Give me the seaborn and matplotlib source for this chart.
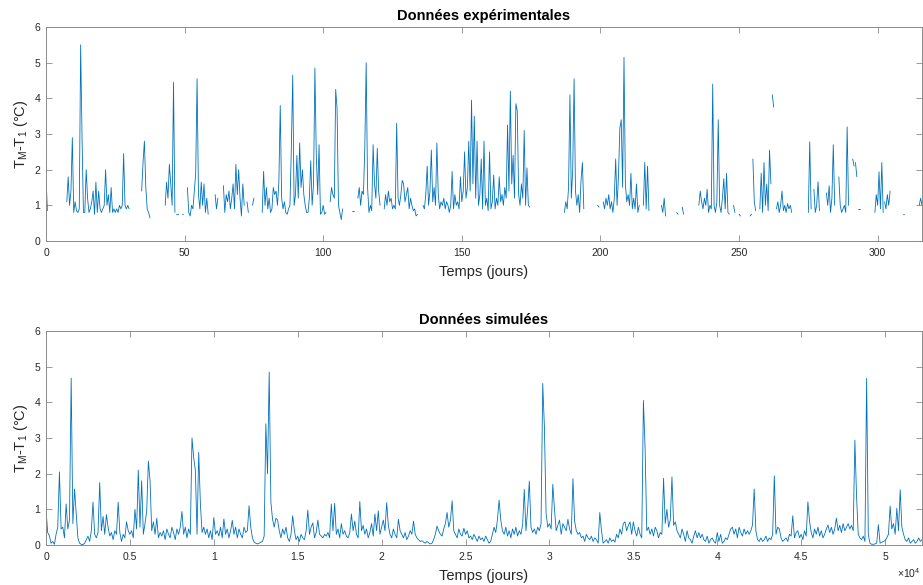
import numpy as np
import pandas as pd
import matplotlib
matplotlib.use("Agg")
import matplotlib.pyplot as plt
import seaborn as sns

# ---- Experimental data: continuous recording pieces (start day, values every 0.5 day)
exp_pas = 0.5
exp_debut = [0.0, 7.5, 34.5, 43.0, 47.0, 49.0, 51.0, 61.0, 64.0, 72.5, 74.5, 78.0,
             102.5, 110.5, 112.5, 122.0, 136.0, 187.0, 199.0, 201.0, 215.5, 222.0,
             227.5, 229.5, 235.5, 248.0, 250.0, 254.0, 255.0, 257.5, 262.0, 263.5,
             275.0, 277.0, 281.5, 286.0, 291.0, 292.0, 293.0, 299.0, 302.5, 309.0, 315.0]
exp_segments = [
    [1.8, 0.85],
    [1.1, 1.8, 1.0, 1.4, 2.9, 0.8, 1.1, 0.85, 0.8, 0.9, 5.5, 2.9, 0.8, 0.8, 2.0, 1.2,
     0.8, 0.9, 1.1, 1.4, 0.75, 1.65, 0.8, 1.4, 0.9, 0.8, 0.9, 1.0, 2.0, 1.0, 1.3, 0.8,
     1.5, 0.8, 0.9, 0.8, 0.9, 0.8, 1.0, 0.9, 1.0, 2.45, 1.0, 0.9, 1.0, 0.9],
    [1.4, 2.2, 2.8, 1.5, 0.9, 0.8, 0.65],
    [1.0, 1.65, 1.2, 2.15, 1.6, 1.0, 4.45, 0.8],
    [0.75, 0.75],
    [0.75, 0.75],
    [1.5, 0.8, 0.7, 1.0, 0.9, 1.4, 1.9, 4.55, 1.3, 0.9, 1.65, 1.0, 1.6, 0.8, 1.2, 0.75],
    [1.3, 0.9, 1.2],
    [1.55, 0.8, 1.3, 1.1, 1.4, 0.9, 1.2, 1.6, 0.9, 2.15, 1.3, 2.0, 1.2, 0.7, 1.6, 1.0],
    [1.1, 0.8],
    [1.0, 1.2],
    [0.8, 1.95, 1.0, 1.5, 0.9, 1.2, 0.8, 0.9, 1.5, 1.3, 1.4, 1.0, 1.65, 3.8, 1.2, 0.9,
     1.1, 0.8, 0.75, 0.9, 1.0, 2.6, 4.65, 1.0, 1.3, 2.4, 1.2, 2.75, 1.5, 2.0, 1.3, 1.0,
     0.8, 0.8, 1.2, 2.25, 1.0, 1.6, 4.85, 2.4, 1.3, 2.7, 0.75, 0.8, 1.0, 0.75, 0.8],
    [1.1, 1.5, 1.3, 1.2, 4.25, 3.7, 1.0, 0.8, 0.6, 0.9],
    [0.85, 0.85],
    [1.2, 1.5, 1.0, 1.4, 1.3, 2.6, 5.0, 1.5, 0.8, 1.0, 0.85, 2.7, 1.6, 1.2, 2.6, 1.4, 1.0],
    [0.9, 1.3, 1.0, 1.4, 1.1, 1.2, 0.9, 1.0, 0.9, 3.3, 1.2, 1.0, 1.3, 1.7, 1.6, 1.1,
     1.3, 1.5, 0.9, 1.2, 1.0, 0.85, 0.9, 0.7, 0.75],
    [1.0, 0.9, 1.3, 2.1, 1.0, 1.4, 2.55, 1.1, 1.5, 1.0, 2.75, 1.3, 0.9, 1.1, 1.0, 1.2,
     0.9, 1.1, 1.0, 0.8, 1.0, 1.95, 0.9, 1.3, 1.0, 1.1, 0.9, 1.8, 1.1, 1.4, 2.5, 1.2,
     1.5, 2.8, 1.4, 3.95, 1.6, 3.5, 1.2, 2.8, 1.0, 1.3, 2.3, 0.9, 2.8, 1.0, 1.2, 0.85,
     2.5, 0.9, 1.1, 1.85, 0.9, 1.2, 1.0, 1.8, 1.1, 1.3, 1.0, 1.5, 1.2, 3.25, 1.4, 4.2,
     1.6, 2.4, 1.2, 3.85, 3.65, 1.3, 1.0, 1.6, 1.2, 3.1, 1.0, 2.05, 1.0, 0.95],
    [0.8, 1.1, 0.9, 1.5, 4.1, 1.2, 2.0, 4.55, 1.4, 1.0, 1.3, 0.8, 1.7, 2.2, 0.9],
    [1.0, 0.95],
    [1.1, 0.9, 1.2, 1.0, 1.3, 0.9, 1.1, 0.8, 1.2, 2.3, 1.0, 1.8, 3.15, 3.4, 1.5, 5.15,
     1.6, 1.1, 1.3, 1.0, 1.9, 0.9, 1.2, 0.9, 1.6, 0.8, 1.0],
    [1.0, 2.2, 0.9, 2.1, 0.85],
    [1.0, 0.8, 1.2, 0.7],
    [0.8, 0.75],
    [0.95, 0.75],
    [1.0, 1.4, 1.1, 0.9, 1.2, 1.0, 1.45, 0.8, 1.0, 0.9, 4.4, 1.0, 0.8, 1.1, 3.4, 1.0,
     0.8, 1.2, 1.75, 0.9, 1.9, 0.8, 0.75],
    [1.0, 0.8],
    [0.75, 0.7],
    [0.7, 0.75],
    [2.3, 1.1, 0.85],
    [0.9, 1.9, 0.8, 2.2, 1.0, 1.6, 0.85, 2.55, 1.6],
    [4.1, 3.75],
    [0.9, 1.1, 0.8, 1.0, 1.4, 0.85, 1.0, 0.8, 1.05, 0.9, 1.0, 0.8],
    [0.8, 2.78, 0.9],
    [1.45, 0.8, 1.0, 1.66, 0.85],
    [1.35, 1.0, 1.55, 0.8, 1.2, 2.7, 1.0],
    [1.8, 1.0, 0.8, 0.9, 1.0, 0.8, 3.2, 1.0],
    [2.3, 2.1],
    [2.2, 1.8],
    [0.9, 0.9],
    [0.8, 1.3, 1.0, 1.94, 0.9, 2.2, 0.8],
    [1.1, 0.9, 1.3, 1.0, 1.4],
    [0.75, 0.75],
    [1.0, 1.2, 1.0],
]

# ---- Simulated data: one value every 100 time units
sim_pas = 100
sim_dT = [
    1.00, 0.35, 0.26, 0.05, 0.10, 0.02, 0.30, 0.50, 2.05, 0.45,
    0.50, 0.20, 1.15, 0.45, 0.70, 4.68, 0.60, 1.57, 0.87, 0.20,
    0.05, 0.02, 0.01, 0.05, 0.15, 0.25, 0.10, 0.40, 1.20, 0.30,
    0.20, 0.35, 1.75, 0.40, 0.80, 0.30, 0.85, 0.50, 0.25, 0.35,
    0.15, 0.40, 0.30, 1.20, 0.35, 0.10, 0.30, 0.20, 0.65, 0.40,
    0.30, 0.40, 0.20, 1.00, 0.45, 2.10, 0.50, 1.80, 0.30, 0.60,
    0.95, 2.35, 1.80, 0.40, 0.65, 0.30, 0.75, 0.20, 0.35, 0.25,
    0.40, 0.15, 0.45, 0.30, 0.20, 0.50, 0.35, 0.15, 0.45, 0.30,
    0.50, 0.94, 0.30, 0.50, 0.20, 0.45, 0.30, 3.00, 2.45, 2.10,
    0.30, 2.60, 1.15, 0.35, 0.50, 0.30, 0.45, 0.20, 0.40, 0.15,
    0.77, 0.30, 0.40, 0.25, 0.50, 0.20, 0.73, 0.30, 0.45, 0.20,
    0.40, 0.69, 0.30, 0.50, 0.20, 0.45, 0.30, 0.20, 0.50, 0.35,
    0.40, 1.10, 0.50, 0.20, 0.08, 0.05, 0.03, 0.05, 0.08, 0.10,
    0.25, 3.40, 2.00, 4.85, 1.20, 0.72, 0.50, 0.75, 0.70, 0.40,
    0.20, 0.45, 0.30, 0.50, 0.20, 0.10, 0.30, 0.82, 0.40, 0.15,
    0.25, 0.10, 0.30, 0.20, 0.15, 0.40, 0.98, 0.30, 0.50, 0.62,
    0.20, 0.35, 0.70, 0.30, 0.25, 0.20, 0.30, 0.25, 0.35, 0.20,
    1.15, 0.40, 1.17, 0.30, 0.45, 0.20, 0.60, 0.30, 0.40, 0.25,
    0.20, 0.35, 0.87, 0.40, 0.67, 0.30, 0.20, 1.22, 0.40, 0.55,
    0.30, 0.45, 0.20, 0.35, 0.60, 0.25, 0.87, 0.40, 0.96, 0.30,
    0.50, 0.70, 0.40, 1.19, 0.55, 0.30, 0.20, 0.45, 0.30, 0.20,
    0.72, 0.40, 0.30, 0.20, 0.35, 0.15, 0.25, 0.40, 0.30, 0.67,
    0.30, 0.20, 0.15, 0.10, 0.12, 0.08, 0.05, 0.10, 0.06, 0.03,
    0.05, 0.15, 0.30, 0.53, 0.40, 0.30, 0.25, 0.45, 0.60, 0.91,
    0.50, 0.70, 1.24, 0.40, 0.30, 0.20, 0.45, 0.30, 0.25, 0.47,
    0.30, 0.40, 0.20, 0.25, 0.15, 0.30, 0.20, 0.10, 0.25, 0.15,
    0.20, 0.10, 0.25, 0.15, 0.05, 0.10, 0.30, 0.50, 0.35, 0.70,
    1.26, 0.70, 0.40, 0.30, 0.50, 0.25, 0.40, 0.20, 0.45, 0.30,
    0.50, 0.25, 0.40, 0.30, 0.55, 1.56, 0.40, 1.00, 1.79, 0.50,
    0.35, 0.45, 0.30, 0.50, 0.40, 0.60, 4.53, 3.30, 0.88, 0.50,
    0.60, 0.45, 1.70, 1.00, 0.40, 0.55, 0.70, 0.30, 0.60, 0.50,
    0.40, 0.72, 0.45, 0.30, 1.86, 0.67, 0.40, 0.30, 0.35, 0.20,
    0.25, 0.10, 0.30, 0.20, 0.15, 0.25, 0.10, 0.20, 0.15, 0.05,
    0.91, 0.40, 0.05, 0.10, 0.15, 0.05, 0.20, 0.10, 0.15, 0.08,
    0.30, 0.20, 0.45, 0.30, 0.60, 0.65, 0.40, 0.55, 0.65, 0.30,
    0.65, 0.40, 0.25, 0.50, 0.30, 0.20, 4.05, 2.70, 0.40, 0.50,
    0.30, 0.45, 0.25, 0.50, 0.40, 0.20, 0.35, 0.30, 1.87, 0.60,
    1.00, 0.50, 0.70, 1.91, 0.55, 0.65, 0.40, 0.30, 0.20, 0.45,
    0.30, 0.10, 0.40, 0.20, 0.15, 0.05, 0.25, 0.40, 0.20, 0.35,
    0.20, 0.30, 0.15, 0.10, 0.25, 0.05, 0.15, 0.20, 0.10, 0.05,
    0.35, 0.10, 0.30, 0.05, 0.10, 0.20, 0.15, 0.30, 0.45, 0.50,
    0.30, 0.45, 0.20, 0.50, 0.35, 0.25, 0.45, 0.30, 0.40, 0.30,
    0.40, 0.56, 1.57, 0.40, 0.15, 0.10, 0.20, 0.10, 0.15, 0.25,
    0.10, 0.20, 0.15, 0.30, 1.94, 0.30, 0.50, 0.45, 0.20, 0.10,
    0.15, 0.20, 0.10, 0.30, 0.25, 0.82, 0.20, 0.35, 0.40, 0.20,
    0.30, 0.15, 0.40, 0.25, 1.21, 0.66, 0.35, 0.20, 0.45, 0.30,
    0.50, 0.25, 0.40, 0.20, 0.30, 0.45, 0.56, 0.35, 0.50, 0.30,
    0.45, 0.75, 0.40, 0.55, 0.35, 0.60, 0.40, 0.50, 0.60, 0.45,
    0.55, 0.40, 2.94, 1.37, 0.30, 0.20, 0.15, 0.25, 0.10, 4.67,
    0.30, 0.05, 0.02, 0.02, 0.03, 0.05, 0.57, 0.05, 0.08, 0.10,
    0.12, 0.20, 0.30, 1.09, 0.45, 0.60, 0.30, 1.03, 0.40, 1.55,
    0.50, 0.30, 0.15, 0.10, 0.20, 0.05, 0.10, 0.15, 0.05, 0.10,
    0.20, 0.10, 0.15,
]

# ---- Axis ticks and labels
exp_xticks = [0, 50, 100, 150, 200, 250, 300]
sim_xticks = [0, 5000, 10000, 15000, 20000, 25000, 30000, 35000, 40000, 45000, 50000]
sim_xticklabels = ["0", "0.5", "1", "1.5", "2", "2.5", "3", "3.5", "4", "4.5", "5"]
yticks = [0, 1, 2, 3, 4, 5, 6]

titre_exp = "Données expérimentales"
titre_sim = "Données simulées"
xlabel = "Temps (jours)"
ylabel = r"T$_\mathregular{M}$-T$_\mathregular{1}$ (°C)"

# ---- Tables
rows = []
for k, (t0, vals) in enumerate(zip(exp_debut, exp_segments)):
    for i, v in enumerate(vals):
        rows.append((k, t0 + exp_pas * i, v))
df_exp = pd.DataFrame(rows, columns=["segment", "jours", "dT"])
df_sim = pd.DataFrame({"t": np.arange(len(sim_dT)) * sim_pas, "dT": sim_dT})

# ---- Figure
sns.set_theme(style="white")
plt.rcParams["font.family"] = ["Liberation Sans", "DejaVu Sans"]
plt.rcParams["mathtext.fontset"] = "custom"
plt.rcParams["mathtext.rm"] = "Liberation Sans"

W, H = 923, 585
fig = plt.figure(figsize=(W / 100, H / 100), dpi=100)
ax1 = fig.add_axes([46 / W, 1 - 241 / H, 876 / W, 214 / H])
ax2 = fig.add_axes([46 / W, 1 - 545 / H, 876 / W, 214 / H])

bleu = "#0072BD"
sns.lineplot(data=df_exp, x="jours", y="dT", units="segment", estimator=None,
             color=bleu, lw=0.6, ax=ax1)
sns.lineplot(data=df_sim, x="t", y="dT", color=bleu, lw=0.6, ax=ax2)

gris_axe = "#8a8a8a"
gris_txt = "#262626"
for ax, titre in ((ax1, titre_exp), (ax2, titre_sim)):
    ax.set_ylim(0, 6)
    ax.set_yticks(yticks)
    ax.set_title(titre, fontsize=10.5, fontweight="bold", color="black", pad=5)
    ax.set_xlabel(xlabel, fontsize=10.5, color=gris_txt, labelpad=5)
    ax.set_ylabel(ylabel, fontsize=10.5, color=gris_txt, labelpad=3)
    ax.tick_params(direction="in", length=4.5, width=0.6, color=gris_axe,
                   labelcolor=gris_txt, labelsize=7.5, top=True, right=True,
                   bottom=True, left=True)
    ax.tick_params(axis="x", pad=5)
    ax.tick_params(axis="y", pad=4)
    for sp in ax.spines.values():
        sp.set_color(gris_axe)
        sp.set_linewidth(0.7)
    ax.grid(False)

ax1.set_xlim(0, 316)
ax1.set_xticks(exp_xticks)
ax2.set_xlim(0, 52200)
ax2.set_xticks(sim_xticks)
ax2.set_xticklabels(sim_xticklabels)
fig.text(921 / W, 1 - 573 / H, r"$\times$10$^\mathregular{4}$", fontsize=7.5,
         color=gris_txt, ha="right", va="center")

fig.savefig("out.png", dpi=100)
